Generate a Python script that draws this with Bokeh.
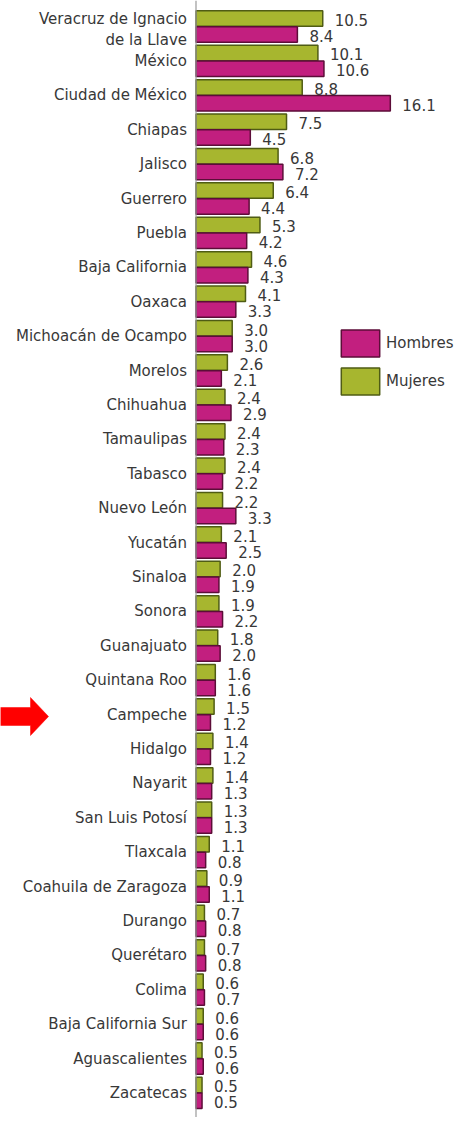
from bokeh.plotting import figure
from bokeh.models import Range1d, Span, ColumnDataSource, Legend, LegendItem
from bokeh.core.properties import value
from bokeh.embed import file_html
from bokeh.resources import INLINE

# ---- data ----
estados = [
    "Veracruz de Ignacio\nde la Llave", "México", "Ciudad de México", "Chiapas", "Jalisco",
    "Guerrero", "Puebla", "Baja California", "Oaxaca", "Michoacán de Ocampo",
    "Morelos", "Chihuahua", "Tamaulipas", "Tabasco", "Nuevo León",
    "Yucatán", "Sinaloa", "Sonora", "Guanajuato", "Quintana Roo",
    "Campeche", "Hidalgo", "Nayarit", "San Luis Potosí", "Tlaxcala",
    "Coahuila de Zaragoza", "Durango", "Querétaro", "Colima", "Baja California Sur",
    "Aguascalientes", "Zacatecas",
]
mujeres = [10.5, 10.1, 8.8, 7.5, 6.8, 6.4, 5.3, 4.6, 4.1, 3.0,
           2.6, 2.4, 2.4, 2.4, 2.2, 2.1, 2.0, 1.9, 1.8, 1.6,
           1.5, 1.4, 1.4, 1.3, 1.1, 0.9, 0.7, 0.7, 0.6, 0.6,
           0.5, 0.5]
hombres = [8.4, 10.6, 16.1, 4.5, 7.2, 4.4, 4.2, 4.3, 3.3, 3.0,
           2.1, 2.9, 2.3, 2.2, 3.3, 2.5, 1.9, 2.2, 2.0, 1.6,
           1.2, 1.2, 1.3, 1.3, 0.8, 1.1, 0.8, 0.8, 0.7, 0.6,
           0.6, 0.5]
destacado = "Campeche"

# ---- layout constants ----
W, H = 458, 1117
X0_PX = 195.5        # pixel of value 0
PX_PER_UNIT = 12.07
ROW_PX = 34.4
FIRST_ROW_PX = 26.0
DODGE = 0.23
BAR_H = 0.45

PINK = "#C21F7F"
PINK_LINE = "#5c0d38"
GREEN = "#A7B62F"
GREEN_LINE = "#4f5c14"
TXT = "#383838"
FONT = "DejaVu Sans"
FS = "15px"

idx = list(range(len(estados)))
src = ColumnDataSource(dict(
    idx=idx,
    estado=estados,
    lab_dy=[3 if "\n" in e else 0 for e in estados],
    y_m=[i - DODGE for i in idx],
    y_h=[i + DODGE for i in idx],
    mujeres=mujeres,
    hombres=hombres,
    lab_m=[f"{v:.1f}" for v in mujeres],
    lab_h=[f"{v:.1f}" for v in hombres],
))

x_start = -X0_PX / PX_PER_UNIT
x_end = (W - X0_PX) / PX_PER_UNIT
y_top = -FIRST_ROW_PX / ROW_PX
y_bottom = (H - FIRST_ROW_PX) / ROW_PX

p = figure(width=W, height=H, output_backend="svg", toolbar_location=None,
           x_range=Range1d(x_start, x_end), y_range=Range1d(y_bottom, y_top),
           x_axis_location=None, y_axis_location=None, min_border=0,
           outline_line_color=None, background_fill_color="white")
p.xgrid.visible = False
p.ygrid.visible = False

p.add_layout(Span(location=0, dimension="height", line_color="#9a9a9a", line_width=1.2))

r_m = p.hbar(y="y_m", left=0, right="mujeres", height=BAR_H, source=src,
             fill_color=GREEN, line_color=GREEN_LINE, line_width=1.5)
r_h = p.hbar(y="y_h", left=0, right="hombres", height=BAR_H, source=src,
             fill_color=PINK, line_color=PINK_LINE, line_width=1.5)

# value labels
p.text(x="mujeres", y="y_m", text="lab_m", source=src, x_offset=12, y_offset=1.5,
       text_align="left", text_baseline="middle", text_font=value(FONT),
       text_font_size=FS, text_color=TXT)
p.text(x="hombres", y="y_h", text="lab_h", source=src, x_offset=12, y_offset=1.5,
       text_align="left", text_baseline="middle", text_font=value(FONT),
       text_font_size=FS, text_color=TXT)

# category labels
p.text(x=0, y="idx", text="estado", source=src, x_offset=-9, y_offset="lab_dy",
       text_align="right", text_baseline="middle", text_font=value(FONT),
       text_font_size=FS, text_color=TXT, text_line_height=1.13)

# red arrow pointing at highlighted state
ci = estados.index(destacado)
def px_x(px):
    return (px - X0_PX) / PX_PER_UNIT
def px_y(dpx):
    return ci + dpx / ROW_PX
ax = [px_x(0), px_x(30), px_x(30), px_x(48), px_x(30), px_x(30), px_x(0)]
ay = [px_y(-7), px_y(-7), px_y(-17), px_y(2), px_y(21), px_y(11), px_y(11)]
p.patch(ax, ay, fill_color="#FF0000", line_color="#FF0000", line_width=0.5)

legend = Legend(items=[LegendItem(label="Hombres", renderers=[r_h]),
                       LegendItem(label="Mujeres", renderers=[r_m])],
                location=(336, 719), orientation="vertical",
                glyph_width=48, glyph_height=34, spacing=4, label_standoff=2,
                padding=0, margin=0, border_line_alpha=0, background_fill_alpha=0,
                label_text_font=FONT, label_text_font_size=FS,
                label_text_color=TXT, label_height=34)
p.add_layout(legend)

open("out.html", "w").write(file_html(p, INLINE))
